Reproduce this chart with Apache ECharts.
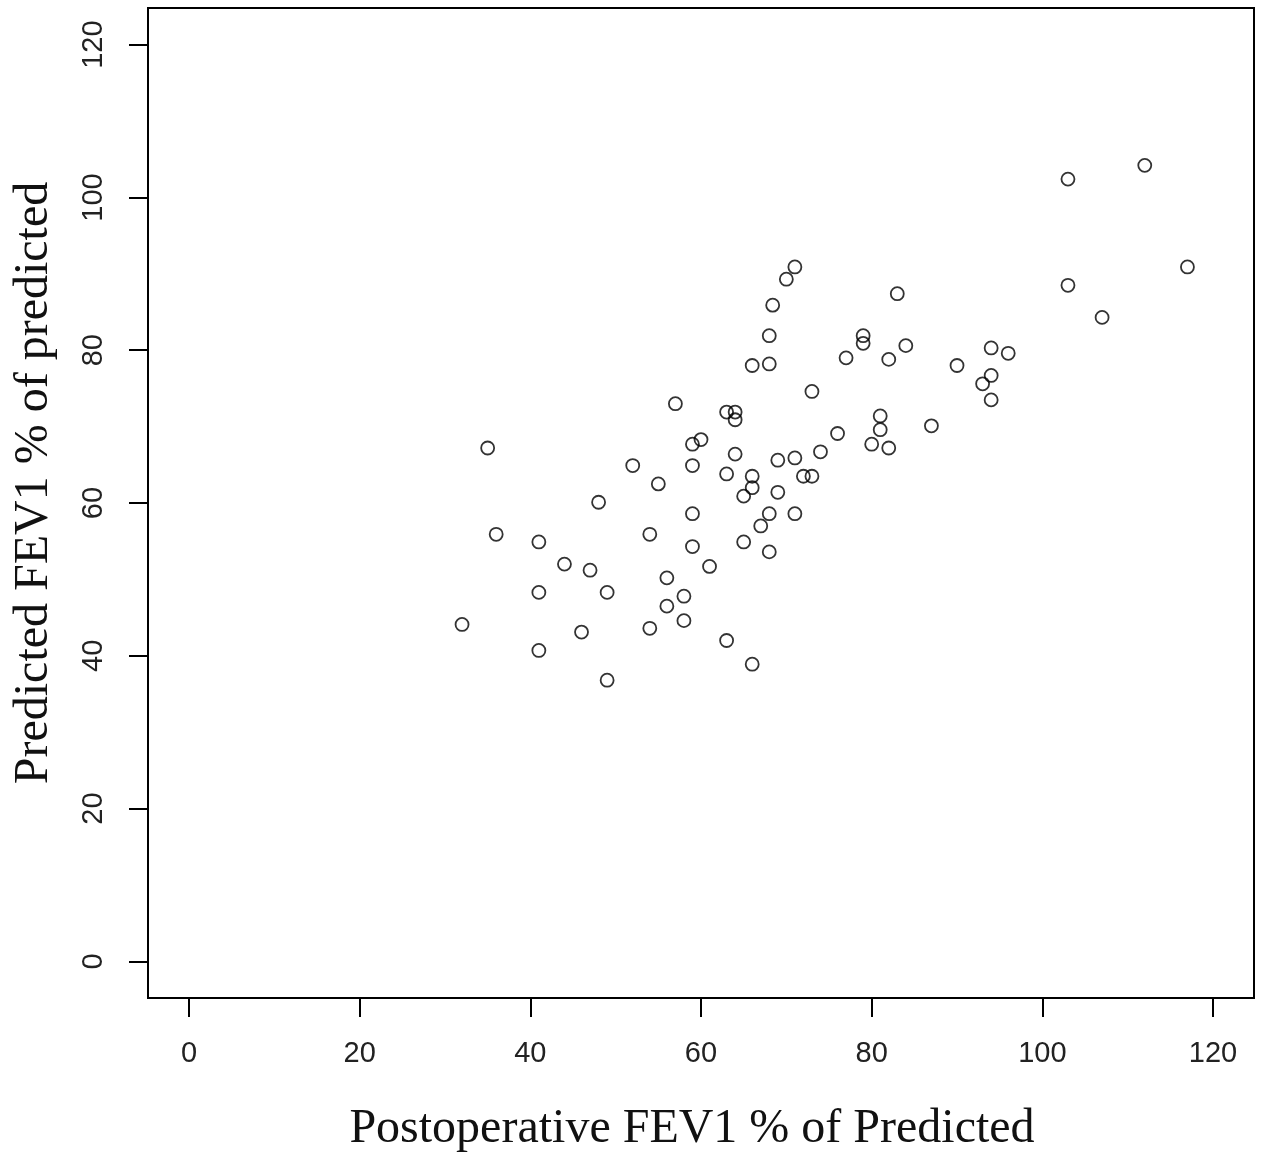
<!DOCTYPE html>
<html>
<head>
<meta charset="utf-8">
<script src="https://cdn.jsdelivr.net/npm/echarts@6/dist/echarts.min.js"></script>
<style>
html,body{margin:0;padding:0;background:#fff;}
#chart{width:1267px;height:1161px;}
</style>
</head>
<body>
<div id="chart"></div>
<script>
// Postoperative FEV1 % of Predicted (x) vs Predicted FEV1 % of predicted (y)
const xValues = [32,35,36,41,41,41,44,46,47,48,49,49,52,54,54,55,57,56,56,58,58,59,59,59,59,60,61,63,63,63,64,64,64,65,65,66,66,66,66,67,68,68,68,68,68.4,69,69,70,71,71,71,72,73,73,74,76,77,79,79,80,81,81,82,82,83,84,87,90,93,94,94,94,96,103,103,107,112,117];
const yValues = [44.1,67.2,55.9,54.9,48.3,40.7,52.0,43.1,51.2,60.1,48.3,36.8,64.9,55.9,43.6,62.5,73.0,50.2,46.5,47.8,44.6,67.7,64.9,58.6,54.3,68.3,51.7,71.9,63.8,42.0,71.9,70.9,66.4,60.9,54.9,78.0,63.5,62.0,38.9,57.0,81.9,78.2,58.6,53.6,85.9,65.6,61.4,89.3,90.9,65.9,58.6,63.5,74.6,63.5,66.7,69.1,79.0,81.9,80.9,67.7,71.4,69.6,78.8,67.2,87.4,80.6,70.1,78.0,75.6,76.7,80.3,73.5,79.6,102.4,88.5,84.3,104.2,90.9];
const tickValues = [0,20,40,60,80,100,120];
const xTitle = 'Postoperative FEV1 % of Predicted';
const yTitle = 'Predicted FEV1 % of predicted';

const points = xValues.map((x, i) => [x, yValues[i]]);

const chart = echarts.init(document.getElementById('chart'), null, {renderer: 'canvas'});
const labelStyle = {fontFamily: 'Liberation Sans', fontSize: 29, color: '#222'};
chart.setOption({
  animation: false,
  backgroundColor: '#fff',
  grid: {left: 148, right: 13, top: 8, bottom: 163, show: true, borderColor: '#000', borderWidth: 2, backgroundColor: 'transparent'},
  xAxis: {
    type: 'value', min: -4.8, max: 124.8,
    name: xTitle, nameLocation: 'middle', nameGap: 107,
    nameTextStyle: {fontFamily: 'Liberation Serif', fontSize: 48, color: '#111', padding: [0, 18, 0, 0]},
    axisLine: {show: false, onZero: false},
    splitLine: {show: false},
    axisTick: {show: true, inside: false, length: 19, customValues: tickValues, lineStyle: {color: '#000', width: 2}},
    axisLabel: Object.assign({margin: 41, customValues: tickValues}, labelStyle)
  },
  yAxis: {
    type: 'value', min: -4.8, max: 124.8,
    name: yTitle, nameLocation: 'middle', nameGap: 90,
    nameTextStyle: {fontFamily: 'Liberation Serif', fontSize: 48, color: '#111', padding: [0, 0, 0, 40]},
    axisLine: {show: false, onZero: false},
    splitLine: {show: false},
    axisTick: {show: true, inside: false, length: 19, customValues: tickValues, lineStyle: {color: '#000', width: 2}},
    axisLabel: Object.assign({margin: 40, rotate: 90, customValues: tickValues}, labelStyle)
  },
  series: [{
    type: 'scatter',
    data: points,
    symbol: 'circle',
    symbolSize: 13,
    itemStyle: {color: 'rgba(0,0,0,0)', borderColor: '#000', borderWidth: 1.8},
    emphasis: {disabled: true}
  }]
});
</script>
</body>
</html>
